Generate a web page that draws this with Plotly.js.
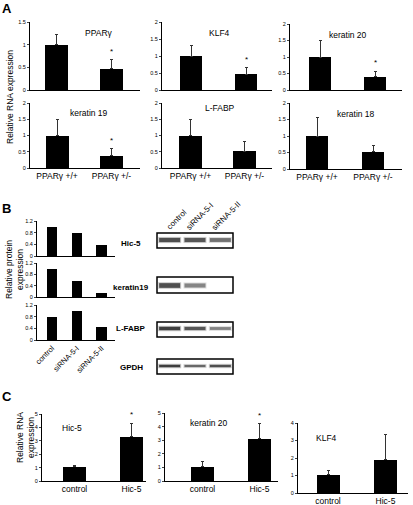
<!DOCTYPE html>
<html><head><meta charset="utf-8">
<script src="https://cdn.plot.ly/plotly-3.0.1.min.js"></script>
<style>html,body{margin:0;padding:0;background:#fff}#chart{width:413px;height:505px}</style>
</head><body><div id="chart"></div>
<script>
// ---------- DATA ----------
// Panel A: relative RNA expression, PPARγ +/+ vs +/-
const aCategories = ['PPARγ +/+', 'PPARγ +/-'];
const aGenes = ['PPARγ', 'KLF4', 'keratin 20', 'keratin 19', 'L-FABP', 'keratin 18'];
const aValues = [[1, 0.47], [1, 0.47], [1, 0.4], [1, 0.38], [1, 0.52], [1, 0.52]];
const aErrors = [[0.22, 0.2], [0.3, 0.18], [0.5, 0.17], [0.5, 0.22], [0.5, 0.3], [0.55, 0.18]];
const aSignificant = [[false, true], [false, true], [false, true], [false, true], [false, false], [false, false]];
const aYMax = [1.5, 2, 2, 2, 2, 2];

// Panel B: relative protein expression after siRNA
const bLanes = ['control', 'siRNA-5-I', 'siRNA-5-II'];
const bProteins = ['Hic-5', 'keratin19', 'L-FABP'];
const bValues = [[1.0, 0.78, 0.38], [1.0, 0.58, 0.13], [0.79, 1.0, 0.45]];
const blotProteins = ['Hic-5', 'keratin19', 'L-FABP', 'GPDH'];
const blotIntensity = [[0.85, 0.8, 0.65], [0.85, 0.55, 0], [0.95, 0.8, 0.55], [0.95, 0.7, 0.85]];

// Panel C: relative RNA expression, control vs Hic-5
const cCategories = ['control', 'Hic-5'];
const cGenes = ['Hic-5', 'keratin 20', 'KLF4'];
const cValues = [[1.05, 3.3], [1.05, 3.1], [1.03, 1.9]];
const cErrors = [[0.12, 1.0], [0.42, 1.1], [0.28, 1.45]];
const cSignificant = [[false, true], [false, true], [false, false]];
const cYMax = [5, 5, 4];

// ---------- LAYOUT HELPERS ----------
const W = 413, H = 505;
const px = x => x / W, py = y => 1 - y / H;
const FONT = '"Liberation Sans", Arial, sans-serif';
const traces = [];
const layout = {
  width: W, height: H, margin: {l: 0, r: 0, t: 0, b: 0},
  paper_bgcolor: '#fff', plot_bgcolor: 'rgba(0,0,0,0)', showlegend: false,
  font: {family: FONT, color: '#000'}, annotations: [], shapes: [], bargap: 0
};
let axN = 0;
function addPanel(g) {
  axN++;
  const s = axN === 1 ? '' : String(axN);
  const xa = 'x' + s, ya = 'y' + s;
  const n = g.cats.length;
  const unit = (g.c1 - g.c0) / (n - 1);
  const range = [-(g.c0 - g.xl) / unit, (n - 1) + (g.xr - g.c1) / unit];
  const tr = {type: 'bar', x: g.cats, y: g.vals, xaxis: xa, yaxis: ya, width: g.barPx / unit,
    marker: {color: '#000', line: {width: 0}}, hoverinfo: 'skip', cliponaxis: false};
  if (g.errs) tr.error_y = {type: 'data', symmetric: false, array: g.errs, arrayminus: g.errs.map(() => 0),
    color: '#333', thickness: 1, width: 1.5};
  traces.push(tr);
  layout['xaxis' + s] = {domain: [px(g.xl), px(g.xr)], range: range, type: 'category', anchor: ya,
    showline: true, linecolor: '#000', linewidth: 1, showgrid: false, zeroline: false, ticks: '',
    showticklabels: !!g.showX, tickfont: {size: g.xfont || 8.5, family: FONT}, tickangle: g.tickangle || 0,
    fixedrange: true};
  layout['yaxis' + s] = {domain: [py(g.y0), py(g.yt)], range: [0, g.ymax], anchor: xa,
    showline: true, linecolor: '#000', linewidth: 1, showgrid: false, zeroline: false,
    ticks: 'outside', ticklen: 2, tickwidth: 1, tick0: 0, dtick: g.dtick,
    tickfont: {size: 5.5, family: FONT}, fixedrange: true};
  if (g.sig) g.sig.forEach((v, i) => {
    if (v) layout.annotations.push({xref: xa, yref: ya, x: g.cats[i], y: g.vals[i] + g.errs[i],
      text: '*', showarrow: false, yanchor: 'bottom', yshift: 2, font: {size: 8, family: FONT}});
  });
}
function label(text, x, y, opts) {
  layout.annotations.push(Object.assign({xref: 'paper', yref: 'paper', x: px(x), y: py(y), text: text,
    showarrow: false, xanchor: 'left', yanchor: 'middle', font: {size: 8.5, family: FONT}}, opts || {}));
}

// ---------- PANEL A ----------
const aGeom = [
  {xl: 30, xr: 140, y0: 90, yt: 22, c0: 56.5, c1: 111.5, barPx: 23, t: [83, 33]},
  {xl: 162, xr: 272, y0: 90, yt: 22, c0: 191, c1: 246, barPx: 22, t: [207, 33]},
  {xl: 290, xr: 402, y0: 90, yt: 24, c0: 320, c1: 375, barPx: 22, t: [327, 35]},
  {xl: 30, xr: 140, y0: 168, yt: 103, c0: 57, c1: 111.5, barPx: 23, t: [68, 113], showX: true},
  {xl: 162, xr: 272, y0: 168, yt: 103, c0: 190.5, c1: 244.5, barPx: 23, t: [203, 108], showX: true},
  {xl: 290, xr: 402, y0: 169, yt: 103, c0: 317, c1: 373, barPx: 22, t: [335, 114], showX: true}
];
aGeom.forEach((g, i) => {
  addPanel(Object.assign({cats: aCategories, vals: aValues[i], errs: aErrors[i], sig: aSignificant[i],
    ymax: aYMax[i], dtick: 0.5}, g));
  label(aGenes[i], g.t[0], g.t[1]);
});
label('<b>A</b>', 0, 8, {font: {size: 13, family: FONT}});
label('Relative RNA expression', 10, 97, {xanchor: 'center', textangle: -90, font: {size: 8.5, family: FONT}});

// ---------- PANEL B ----------
const bGeom = [
  {y0: 256, yt: 221},
  {y0: 297, yt: 263},
  {y0: 340, yt: 305, showX: true}
];
bGeom.forEach((g, i) => {
  addPanel(Object.assign({cats: bLanes, vals: bValues[i], ymax: 1.2, dtick: 0.4,
    xl: 37, xr: 115, c0: 52, c1: 101.5, barPx: 10.5, tickangle: -45, xfont: 7.5}, g));
});
label('<b>B</b>', 0, 209, {font: {size: 13, family: FONT}});
label('Relative protein<br>expression', 14, 270, {xanchor: 'center', textangle: -90, font: {size: 8.5, family: FONT}});

// western blots
const blotX = [157, 233];
const blotFrames = [[233, 248], [277, 293], [322, 337], [359, 374]];
const bandCenters = [240, 285.5, 328.5, 366];
const bandThick = [4.5, 5, 3.5, 2.5];
const blotLabelY = [243, 287, 328, 367];
blotProteins.forEach((p, i) => {
  const [t, b] = blotFrames[i];
  layout.shapes.push({type: 'rect', xref: 'paper', yref: 'paper', x0: px(blotX[0]), x1: px(blotX[1]),
    y0: py(b), y1: py(t), line: {color: '#000', width: 1.5}, fillcolor: 'rgba(0,0,0,0)'});
  const lw = (blotX[1] - blotX[0]) / 3;
  blotIntensity[i].forEach((v, j) => {
    if (v <= 0) return;
    const cx = blotX[0] + lw * (j + 0.5);
    const hw = 10.5, th = bandThick[i] * (0.6 + 0.4 * v);
    const yc = bandCenters[i];
    layout.shapes.push({type: 'rect', xref: 'paper', yref: 'paper', x0: px(cx - hw - 1), x1: px(cx + hw + 1),
      y0: py(yc + th / 2 + 1), y1: py(yc - th / 2 - 1), line: {width: 0}, fillcolor: 'rgba(60,60,60,' + (0.3 * v) + ')'});
    layout.shapes.push({type: 'rect', xref: 'paper', yref: 'paper', x0: px(cx - hw), x1: px(cx + hw),
      y0: py(yc + th / 2), y1: py(yc - th / 2), line: {width: 0}, fillcolor: 'rgba(30,30,30,' + (0.85 * v) + ')'});
  });
  label('<b>' + p + '</b>', 131, blotLabelY[i], {xanchor: 'center', font: {size: 8, family: FONT}});
});
const laneLabelPos = [[177, 220], [200, 217], [227, 216]];
bLanes.forEach((l, j) => {
  label(l, laneLabelPos[j][0], laneLabelPos[j][1], {xanchor: 'center', textangle: -45, font: {size: 8, family: FONT}});
});

// ---------- PANEL C ----------
const cGeom = [
  {xl: 42, xr: 146, y0: 481, yt: 414, c0: 74.5, c1: 131.5, barPx: 23, t: [60, 428]},
  {xl: 165, xr: 278, y0: 481, yt: 413, c0: 202.5, c1: 259.5, barPx: 23, t: [188, 423]},
  {xl: 298, xr: 408, y0: 493, yt: 423, c0: 328, c1: 385.5, barPx: 23, t: [314, 438]}
];
cGeom.forEach((g, i) => {
  addPanel(Object.assign({cats: cCategories, vals: cValues[i], errs: cErrors[i], sig: cSignificant[i],
    ymax: cYMax[i], dtick: 1, showX: true}, g));
  label(cGenes[i], g.t[0], g.t[1]);
});
label('<b>C</b>', 0, 396, {font: {size: 13, family: FONT}});
label('Relative RNA<br>expression', 25, 438, {xanchor: 'center', textangle: -90, font: {size: 8.5, family: FONT}});

Plotly.newPlot('chart', traces, layout, {staticPlot: true, displayModeBar: false});
</script></body></html>
